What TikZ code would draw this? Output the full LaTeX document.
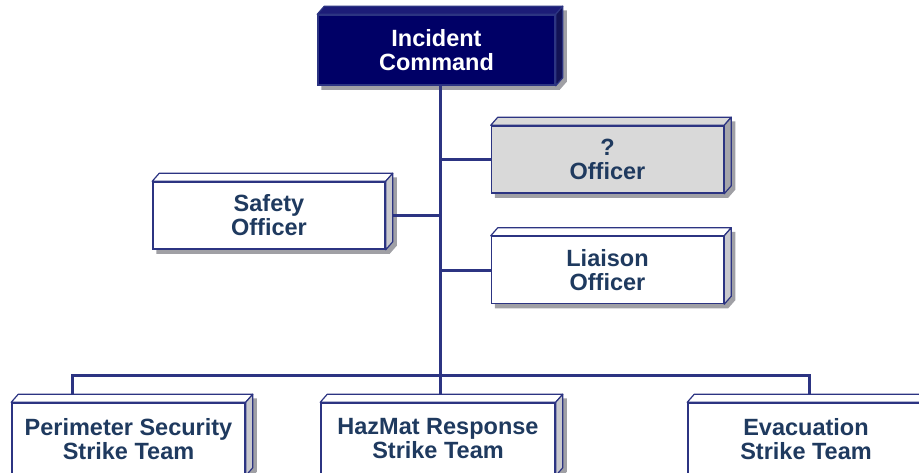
\documentclass[tikz,border=0pt]{standalone}
\usepackage{fontspec}
\setmainfont{Liberation Sans}
\usetikzlibrary{calc,backgrounds}
\definecolor{navy}{RGB}{0,0,102}
\definecolor{navytop}{RGB}{28,28,120}
\definecolor{navyside}{RGB}{18,18,85}
\definecolor{edge}{RGB}{44,52,130}
\definecolor{txt}{RGB}{31,58,95}
\definecolor{lgray}{RGB}{217,217,217}
\definecolor{sidegray}{RGB}{200,200,205}
\definecolor{sidegraydk}{RGB}{165,165,170}
\definecolor{shadowgray}{RGB}{160,160,165}
\newcommand\boxbevel[3]{%
  \filldraw[fill=#2, draw=edge, line width=1.2pt, line join=round]
    (#1.north west) -- ++(7,-8) -- ($(#1.north east)+(7,-8)$) -- (#1.north east) -- cycle;
  \filldraw[fill=#3, draw=edge, line width=1.2pt, line join=round]
    (#1.north east) -- ++(7,-8) -- ($(#1.south east)+(7,-8)$) -- (#1.south east) -- cycle;
}
\newcommand\boxshadow[1]{%
  \fill[shadowgray] ($(#1.south west)+(4,4)$) -- ($(#1.south east)+(4,4)$)
    -- ($(#1.south east)+(11,-4)$) -- ($(#1.north east)+(11,-4)$)
    -- ($(#1.north west)+(11,-4)$) -- ($(#1.north west)+(4,4)$) -- cycle;
}
\begin{document}
\begin{tikzpicture}[x=1pt,y=-1pt,
  box/.style={draw=edge, line width=1.5pt, fill=white, minimum width=232pt,
    minimum height=67pt, inner sep=0pt, text=txt, align=center,
    font=\fontsize{23.5}{24}\selectfont\bfseries},
  conn/.style={draw=edge, line width=3pt, line join=miter},
]
\useasboundingbox (0,0) rectangle (919,472);

\node[box, fill=navy, text=white, minimum width=237pt, minimum height=70pt] (ic) at (436.5,50) {Incident\\Command};
\node[box, fill=lgray] (q) at (607.5,159.5) {?\\Officer};
\node[box] (saf) at (269,215.5) {Safety\\Officer};
\node[box] (lia) at (607.5,270) {Liaison\\Officer};
\node[box, minimum width=233pt, minimum height=72pt] (per) at (128.5,439) {Perimeter Security\\Strike Team};
\node[box, minimum width=234pt, minimum height=72pt] (haz) at (438,439) {HazMat Response\\Strike Team};
\node[box, minimum width=236pt, minimum height=72pt] (eva) at (806,439) {Evacuation\\Strike Team};

\coordinate (bus) at (440,375);
\coordinate (bl) at (72,375);
\coordinate (br) at (809,375);

\begin{scope}[on background layer]
  \boxshadow{ic}\boxshadow{q}\boxshadow{saf}\boxshadow{lia}
  \boxshadow{per}\boxshadow{haz}\boxshadow{eva}
  \draw[conn] (ic.south -| bus) -- (bus);
  \draw[conn] (q.west) -- (q.west -| bus);
  \draw[conn] (lia.west) -- (lia.west -| bus);
  \draw[conn] (saf.east) -- (saf.east -| bus);
  \draw[conn] (bl |- per.north) -- (bl) -- (br) -- (br |- eva.north);
  \draw[conn] (bus) -- (bus |- haz.north);
\end{scope}

\boxbevel{ic}{navytop}{navyside}
\boxbevel{q}{lgray}{sidegraydk}
\boxbevel{saf}{white}{sidegray}
\boxbevel{lia}{white}{sidegray}
\boxbevel{per}{white}{sidegray}
\boxbevel{haz}{white}{sidegray}
\boxbevel{eva}{white}{sidegray}
\end{tikzpicture}
\end{document}
